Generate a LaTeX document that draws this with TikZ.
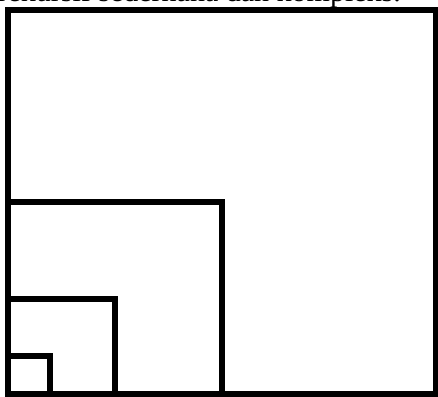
\documentclass[tikz,border=0pt]{standalone}
\usepackage{fontspec}
\setmainfont{Liberation Serif}
\tikzset{box/.style={draw=black,line width=6pt,line join=miter}}
\begin{document}
\begin{tikzpicture}[x=1pt,y=-1pt]
\useasboundingbox (0,0) rectangle (438,396);
\fill[white] (0,0) rectangle (438,396);
\begin{scope}
\clip (0,0) rectangle (438,396);
\node[anchor=base east,inner sep=0pt,font=\fontsize{30}{34}\selectfont] (cap) at (401,1.5) {dari rekursif sederhana dan kompleks.};
\end{scope}
\draw[box] (8,10) rectangle (435.5,393.5);
\draw[box] (8,393.5) rectangle (221.7,201.7);
\draw[box] (8,393.5) rectangle (115,298.7);
\draw[box] (8,393.5) rectangle (50,356);
\end{tikzpicture}
\end{document}
